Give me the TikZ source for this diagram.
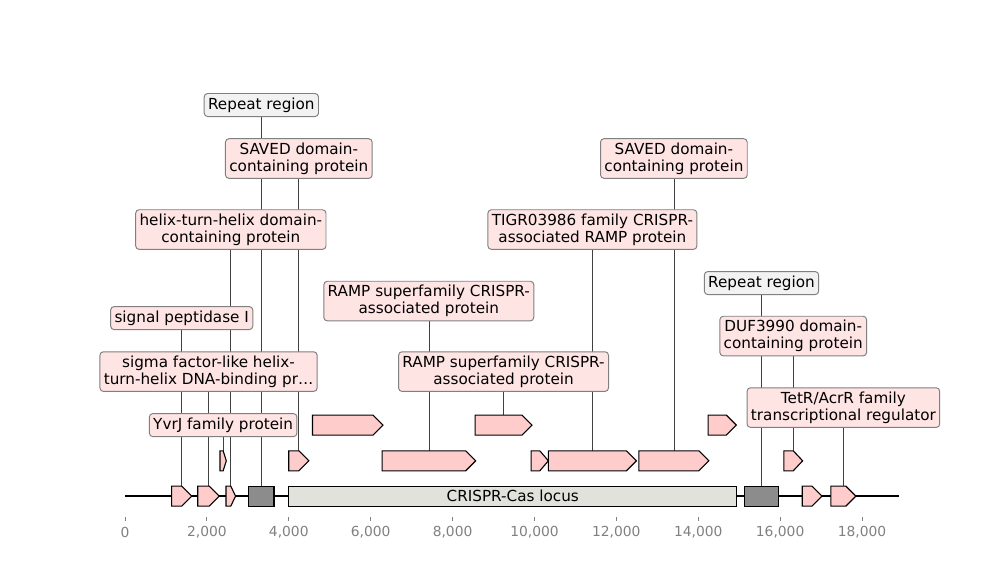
\documentclass[tikz,border=0pt]{standalone}
\usepackage{fontspec}
\setmainfont{DejaVu Sans}
\usetikzlibrary{backgrounds}
\definecolor{genefill}{HTML}{FFCCCC}
\definecolor{labelfill}{HTML}{FFE4E4}
\definecolor{repfill}{HTML}{8C8C8C}
\definecolor{replabel}{HTML}{F2F2F2}
\definecolor{locusfill}{HTML}{E2E2DC}
\tikzset{
	gene/.style={draw=black, fill=genefill, line width=0.8pt},
	lbl/.style={draw=black!50, fill=labelfill, rounded corners=2.5pt, line width=0.7pt,
		inner xsep=2.8pt, inner ysep=3pt, align=center, font=\fontsize{11}{12}\selectfont},
	replbl/.style={lbl, fill=replabel},
	leader/.style={draw=black!75, line width=0.5pt},
	tickmark/.style={draw=gray, line width=0.6pt},
}
\begin{document}
\begin{tikzpicture}[x=1.04cm, y=-0.0254cm]
\useasboundingbox (-3.053,0) rectangle (21.37,580);
\draw[line width=1.4pt] (0,496) -- (18.91,496);
\foreach \nm / \s / \e / \r in {f1/1.14/1.63/496, f2/1.776/2.30/496, f3/2.467/2.70/496,
		f4/16.54/17.02/496, f5/17.24/17.85/496,
		g1/2.32/2.474/460.7, g2/4.0/4.49/460.7, g3/6.28/8.565/460.7, g4/9.92/10.34/460.7,
		g5/10.34/12.49/460.7, g6/12.55/14.26/460.7, g7/16.09/16.55/460.7,
		h1/4.58/6.30/425, h2/8.55/9.94/425, h3/14.24/14.93/425} {
	\pgfmathsetmacro{\hd}{min(0.244,(\e-\s)/2)}
	\pgfmathsetmacro{\m}{\e-\hd}
	\draw[gene] (\s,\r-10) -- (\m,\r-10) -- (\e,\r) -- (\m,\r+10) -- (\s,\r+10) -- cycle;
	\coordinate (\nm) at ({(\s+\e)/2},\r-10);
}
\foreach \nm / \s / \e in {rep1/3.02/3.64, rep2/15.13/15.96} {
	\draw[gene, fill=repfill] (\s,486) rectangle (\e,506);
	\coordinate (\nm) at ({(\s+\e)/2},486);
}
\draw[gene, fill=locusfill] (4.0,486) rectangle (14.94,506);
\node[font=\fontsize{11}{12}\selectfont] (locus) at (9.47,496) {CRISPR-Cas locus};
% labels
\node[replbl] (lrepA) at (3.33,105) {Repeat region};
\node[lbl] (lsavA) at (4.245,158.5) {SAVED domain-\\containing protein};
\node[lbl] (lhth) at (2.585,229.5) {helix-turn-helix domain-\\containing protein};
\node[lbl] (lsp) at (1.385,318) {signal peptidase I};
\node[lbl] (lsig) at (2.04,371.5) {sigma factor-like helix-\\turn-helix DNA-binding pr…};
\node[lbl] (lyvr) at (2.397,425) {YvrJ family protein};
\node[lbl] (lrampA) at (7.42,301) {RAMP superfamily CRISPR-\\associated protein};
\node[lbl] (lrampB) at (9.245,371.5) {RAMP superfamily CRISPR-\\associated protein};
\node[lbl] (ltigr) at (11.415,229.5) {TIGR03986 family CRISPR-\\associated RAMP protein};
\node[lbl] (lsavB) at (13.405,158.5) {SAVED domain-\\containing protein};
\node[replbl] (lrepB) at (15.545,283) {Repeat region};
\node[lbl] (lduf) at (16.32,336) {DUF3990 domain-\\containing protein};
\node[lbl] (ltet) at (17.545,407.5) {TetR/AcrR family\\transcriptional regulator};
\begin{pgfonlayer}{background}
	\foreach \f / \l in {f1/lsp, f2/lsig, f3/lhth, rep1/lrepA, g1/lyvr, g2/lsavA, g3/lrampA,
			h2/lrampB, g5/ltigr, g6/lsavB, rep2/lrepB, g7/lduf, f5/ltet}
		\draw[leader] (\f) -- (\f |- \l.south);
\end{pgfonlayer}
% axis
\foreach \k in {0,2,...,18} {
	\draw[tickmark] (\k,517) -- (\k,521);
	\node[text=gray, font=\fontsize{10}{12}\selectfont] (t\k) at (\k,532) {\ifnum\k=0 0\else\k,000\fi};
}
\end{tikzpicture}
\end{document}
